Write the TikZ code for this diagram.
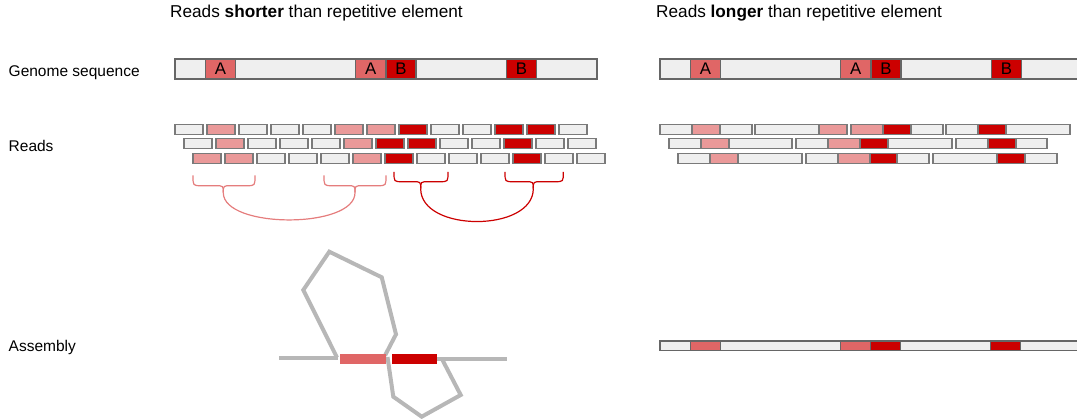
\documentclass[tikz,border=0pt]{standalone}
\usepackage{fontspec}
\setmainfont{Liberation Sans}

\definecolor{cgray}{HTML}{EFEFEF}
\definecolor{cpink}{HTML}{EA9999}
\definecolor{crep}{HTML}{E06666}
\definecolor{cred}{HTML}{CC0000}
\definecolor{cedge}{HTML}{666666}
\definecolor{credge}{HTML}{7A7A7A}
\definecolor{cpath}{HTML}{B7B7B7}

% one curly brace opening upwards, stem pointing down: style, left x, tip x, right x, top y, mid y
\newcommand\curlbrace[6]{%
  \draw[#1] (#2,#5) .. controls (#2,#6) .. (#2+8,#6) -- (#3-8,#6)
            .. controls (#3,#6) .. (#3,#6+7);
  \draw[#1] (#4,#5) .. controls (#4,#6) .. (#4-8,#6) -- (#3+8,#6)
            .. controls (#3,#6) .. (#3,#6+7);
}

\begin{document}
\begin{tikzpicture}[x=1pt,y=-1pt,
  genseg/.style={draw=cedge, line width=1.2pt},
  readseg/.style={draw=credge, line width=1.2pt},
  asmseg/.style={draw=cedge, line width=1.1pt},
  heading/.style={anchor=base west, inner sep=0pt, font=\fontsize{17.2}{20}\selectfont},
  rowname/.style={anchor=base west, inner sep=0pt, font=\fontsize{15.5}{18}\selectfont},
  letter/.style={inner sep=0pt, font=\fontsize{16.8}{20}\selectfont},
  lightbrace/.style={draw=crep!85!white, line width=1.2pt},
  darkbrace/.style={draw=cred, line width=1.2pt},
  contig/.style={draw=cpath, line width=4pt}]

\useasboundingbox (0,0) rectangle (1077,419);

% column headings
\node[heading] (hshort) at (170,17.5) {Reads \textbf{shorter} than repetitive element};
\node[heading] (hlong)  at (656,17.5) {Reads \textbf{longer} than repetitive element};

% row names
\node[rowname] (ngenome)   at (8.5,76.5)  {Genome sequence};
\node[rowname] (nreads)    at (8.5,151.5) {Reads};
\node[rowname] (nassembly) at (8.5,352)   {Assembly};

% genome sequence, both columns
\foreach \dx in {0,485}{
  \foreach \a/\b/\c in {175/205.5/cgray, 205.5/235.5/crep, 235.5/355.5/cgray,
                        355.5/386/crep, 386/416/cred, 416/506.5/cgray,
                        506.5/536.5/cred, 536.5/597/cgray}
    \draw[genseg, fill=\c] (\a+\dx,59) rectangle (\b+\dx,79);
}
\node[letter] (gA1) at (220.5,69.2) {A};
\node[letter] (gA2) at (370.7,69.2) {A};
\node[letter] (gB1) at (401,69.2)   {B};
\node[letter] (gB2) at (521.5,69.2) {B};
\node[letter] (hA1) at (705.5,69.2) {A};
\node[letter] (hA2) at (855.7,69.2) {A};
\node[letter] (hB1) at (886,69.2)   {B};
\node[letter] (hB2) at (1006.5,69.2){B};

% short reads
\foreach \c [count=\i from 0] in {cgray,cpink,cgray,cgray,cgray,cpink,cpink,cred,cgray,cgray,cred,cred,cgray}
  \draw[readseg, fill=\c] (175+32*\i,124.3) rectangle ++(28,10);
\foreach \c [count=\i from 0] in {cgray,cpink,cgray,cgray,cgray,cpink,cred,cred,cgray,cgray,cred,cgray,cgray}
  \draw[readseg, fill=\c] (184+32*\i,138.5) rectangle ++(28,10);
\foreach \c [count=\i from 0] in {cpink,cpink,cgray,cgray,cgray,cpink,cred,cgray,cgray,cgray,cred,cgray,cgray}
  \draw[readseg, fill=\c] (193+32*\i,153.5) rectangle ++(28,10);

% braces joining reads from the two copies of each repeat
\curlbrace{lightbrace}{193}{223.3}{255}{175.5}{185.7}
\curlbrace{lightbrace}{324}{355}{386}{175.5}{185.7}
\draw[lightbrace] (223.3,192.7) .. controls (223.3,229) and (355,229) .. (355,192.7);
\curlbrace{darkbrace}{394}{420.7}{448}{172}{181.7}
\curlbrace{darkbrace}{505}{533.3}{563.3}{172}{181.7}
\draw[darkbrace] (420.7,188.7) .. controls (420.7,232.5) and (533.3,232.5) .. (533.3,188.7);

% long reads
\foreach \a/\b/\c in {660/692/cgray, 692/720/cpink, 720/752/cgray,
                      755/819/cgray, 819/847/cpink,
                      851/883/cpink, 883/911/cred, 911/943/cgray,
                      946/978/cgray, 978/1006/cred, 1006/1070/cgray}
  \draw[readseg, fill=\c] (\a,124.3) rectangle (\b,134.3);
\foreach \a/\b/\c in {669/701/cgray, 701/729/cpink, 729/792/cgray,
                      796/828/cgray, 828/860/cpink, 860/888/cred, 888/952/cgray,
                      956/988/cgray, 988/1016/cred, 1016/1047/cgray}
  \draw[readseg, fill=\c] (\a,138.5) rectangle (\b,148.5);
\foreach \a/\b/\c in {678/710/cgray, 710/738/cpink, 738/802/cgray,
                      806/838/cgray, 838/870/cpink, 870/897/cred, 897/929/cgray,
                      933/997/cgray, 997/1025/cred, 1025/1057/cgray}
  \draw[readseg, fill=\c] (\a,153.5) rectangle (\b,163.5);

% collapsed assembly graph
\draw[contig] (279.3,357.7) -- (338,357.7);
\draw[contig] (337,357.5) -- (303.3,290) -- (329.3,251.7) -- (381.7,277.3)
              -- (396,334.3) -- (385,355.5);
\draw[contig] (387.5,357) -- (393.3,396.7) -- (421.7,416.7) -- (460.7,395)
              -- (441.7,358.5);
\draw[contig] (437,359.3) -- (506.7,359.3);
\fill[crep] (340,354.3) rectangle (386,363.7);
\fill[cred] (392,354.3) rectangle (437.3,363.7);

% resolved assembly
\foreach \a/\b/\c in {660/690.5/cgray, 690.5/720.5/crep, 720.5/840.5/cgray,
                      840.5/870.5/crep, 870.5/900.5/cred, 900.5/990.5/cgray,
                      990.5/1020.5/cred, 1020.5/1082/cgray}
  \draw[asmseg, fill=\c] (\a,341) rectangle (\b,350.5);

\end{tikzpicture}
\end{document}
